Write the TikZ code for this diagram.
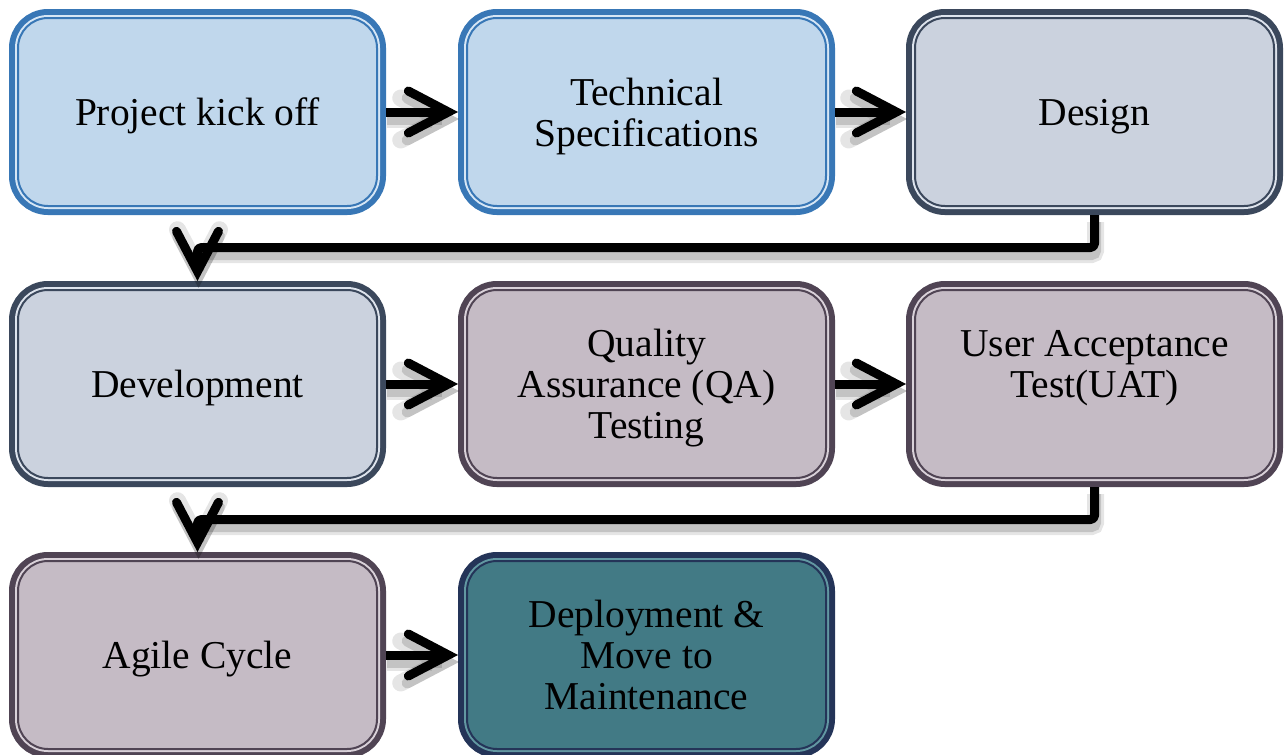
\documentclass[tikz,border=0pt]{standalone}
\usepackage{fontspec}
\setmainfont{Liberation Serif}
\usepackage{tikz}
\usetikzlibrary{arrows.meta}

\definecolor{bluefill}{RGB}{192,215,236}
\definecolor{blueline}{RGB}{56,119,182}
\definecolor{bluegap}{RGB}{214,230,245}
\definecolor{slatefill}{RGB}{203,210,222}
\definecolor{slateline}{RGB}{59,72,92}
\definecolor{slategap}{RGB}{222,228,237}
\definecolor{mauvefill}{RGB}{197,187,197}
\definecolor{mauveline}{RGB}{80,68,84}
\definecolor{mauvegap}{RGB}{217,209,217}
\definecolor{tealfill}{RGB}{66,122,133}
\definecolor{tealline}{RGB}{36,52,88}
\definecolor{tealgap}{RGB}{98,152,162}

\newcommand{\stagefont}{\fontsize{39.5}{41}\selectfont}

\begin{document}
\begin{tikzpicture}[x=1pt, y=-1pt,
    stage/.style={rounded corners=30, minimum width=359, minimum height=188,
                  line width=2, outer sep=9, align=center, text depth=0pt,
                  font=\stagefont},
    bluestage/.style={stage, fill=bluefill, draw=blueline,
                  preaction={draw=blueline, line width=18},
                  preaction={draw=bluegap, line width=6}},
    slatestage/.style={stage, fill=slatefill, draw=slateline,
                  preaction={draw=slateline, line width=18},
                  preaction={draw=slategap, line width=6}},
    mauvestage/.style={stage, fill=mauvefill, draw=mauveline,
                  preaction={draw=mauveline, line width=18},
                  preaction={draw=mauvegap, line width=6}},
    tealstage/.style={stage, fill=tealfill, draw=tealline,
                  preaction={draw=tealline, line width=18},
                  preaction={draw=tealgap, line width=6}},
    flow/.style={line width=9, rounded corners=4, line join=round,
                 -{Straight Barb[length=40pt, width=42pt, line cap=round]},
                 preaction={draw=black, opacity=.1, line width=17,
                            transform canvas={xshift=1pt, yshift=-7pt}},
                 preaction={draw=black, opacity=.15, line width=11,
                            transform canvas={xshift=1pt, yshift=-7pt}}}]

    \useasboundingbox (0,0) rectangle (1286,755);

    % Row 1
    \node[bluestage] (kickoff) at (197.5,112) {Project kick off};
    \node[bluestage] (techspec) at (646.5,112) {Technical\\Specifications};
    \node[slatestage] (design) at (1094.5,112) {Design};

    % Row 2
    \node[slatestage] (develop) at (197.5,384) {Development};
    \node[mauvestage] (qatest) at (646.5,384) {Quality\\Assurance (QA)\\Testing};
    \node[mauvestage] (uat) at (1094.5,384) {User Acceptance\\Test(UAT)\\\mbox{}};

    % Row 3
    \node[mauvestage] (agile) at (197.5,655) {Agile Cycle};
    \node[tealstage] (deploy) at (646.5,655) {Deployment \&\\Move to\\Maintenance};

    % Arrows
    \draw[flow] (kickoff) -- (techspec);
    \draw[flow] (techspec) -- (design);
    \draw[flow] (design.south) -- ++(0,32.5) -| (develop.north); % back to row 2
    \draw[flow] (develop) -- (qatest);
    \draw[flow] (qatest) -- (uat);
    \draw[flow] (uat.south) -- ++(0,32.5) -| (agile.north); % back to row 3
    \draw[flow] (agile) -- (deploy);

\end{tikzpicture}
\end{document}
